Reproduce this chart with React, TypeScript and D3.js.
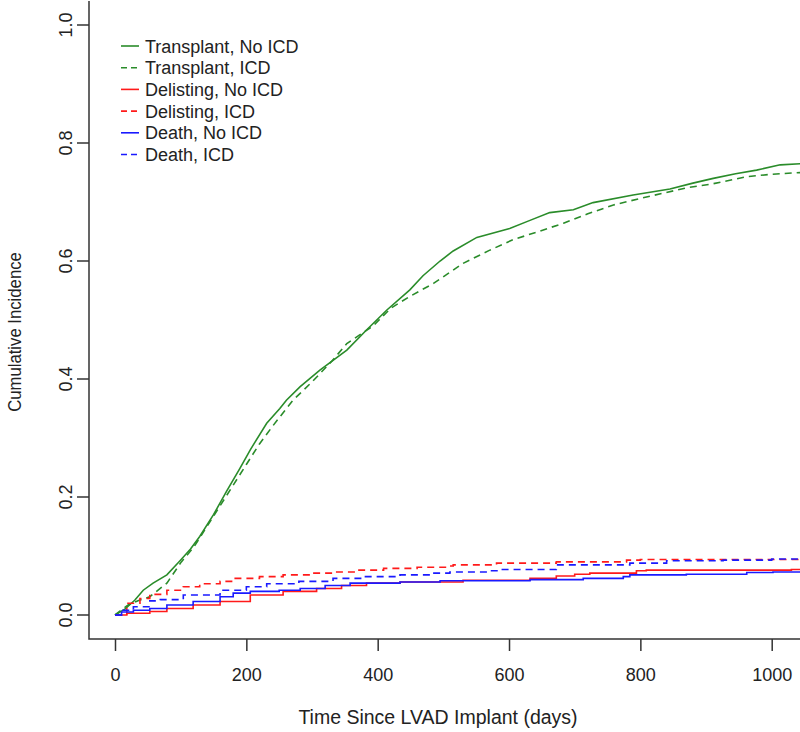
import React, { useEffect, useRef } from 'react';
import * as d3 from 'd3';

// cumulative incidence: [days, value]
const transplantNoIcd: [number, number][] = [
  [0, 0], [15, 0.01], [30, 0.025], [43, 0.042], [58, 0.054], [79, 0.068], [99, 0.092],
  [115, 0.112], [129, 0.133], [150, 0.17], [170, 0.21], [190, 0.248], [206, 0.28],
  [231, 0.325], [251, 0.35], [261, 0.364], [282, 0.387], [312, 0.415], [353, 0.449],
  [383, 0.483], [414, 0.517], [449, 0.551], [469, 0.575], [495, 0.6], [515, 0.617],
  [551, 0.64], [601, 0.655], [630, 0.668], [662, 0.682], [698, 0.687], [728, 0.699],
  [789, 0.712], [845, 0.722], [880, 0.732], [911, 0.74], [945, 0.748], [977, 0.754],
  [1013, 0.763], [1045, 0.765],
];
const transplantIcd: [number, number][] = [
  [0, 0], [20, 0.017], [35, 0.024], [53, 0.031], [79, 0.054], [101, 0.09], [120, 0.115],
  [140, 0.15], [160, 0.185], [180, 0.22], [200, 0.255], [220, 0.29], [240, 0.32],
  [261, 0.35], [271, 0.364], [300, 0.395], [330, 0.43], [353, 0.46], [393, 0.49],
  [420, 0.52], [449, 0.54], [485, 0.562], [530, 0.596], [570, 0.618], [606, 0.636],
  [645, 0.65], [683, 0.664], [720, 0.68], [759, 0.695], [800, 0.706], [835, 0.715],
  [870, 0.724], [911, 0.731], [962, 0.743], [1000, 0.747], [1045, 0.75],
];
const delistingNoIcd: [number, number][] = [
  [0, 0], [18, 0.003], [53, 0.006], [79, 0.011], [119, 0.017], [160, 0.023], [206, 0.034],
  [256, 0.04], [307, 0.045], [345, 0.05], [383, 0.054], [434, 0.056], [530, 0.059],
  [632, 0.062], [672, 0.066], [700, 0.069], [723, 0.071], [794, 0.075], [809, 0.076],
  [1030, 0.077], [1045, 0.077],
];
const delistingIcd: [number, number][] = [
  [0, 0], [18, 0.02], [38, 0.028], [53, 0.035], [79, 0.042], [104, 0.048], [129, 0.053],
  [160, 0.057], [180, 0.062], [220, 0.065], [256, 0.068], [300, 0.071], [332, 0.073],
  [370, 0.076], [409, 0.079], [460, 0.081], [510, 0.083], [515, 0.085], [581, 0.088],
  [672, 0.09], [779, 0.093], [800, 0.094], [1045, 0.096],
];
const deathNoIcd: [number, number][] = [
  [0, 0], [10, 0.005], [28, 0.008], [53, 0.011], [79, 0.017], [119, 0.023], [160, 0.031],
  [180, 0.037], [206, 0.04], [250, 0.042], [282, 0.045], [320, 0.05], [358, 0.054],
  [434, 0.056], [495, 0.058], [632, 0.06], [713, 0.062], [774, 0.065], [784, 0.068],
  [870, 0.069], [962, 0.072], [1002, 0.073], [1045, 0.073],
];
const deathIcd: [number, number][] = [
  [0, 0], [10, 0.008], [28, 0.014], [53, 0.024], [69, 0.026], [104, 0.034], [160, 0.042],
  [200, 0.048], [231, 0.053], [280, 0.057], [332, 0.062], [380, 0.065], [434, 0.068],
  [480, 0.071], [510, 0.073], [571, 0.075], [585, 0.077], [672, 0.085], [784, 0.088],
  [840, 0.092], [926, 0.093], [1000, 0.095], [1045, 0.097],
];

const seriesNames = [
  'Transplant, No ICD', 'Transplant, ICD', 'Delisting, No ICD',
  'Delisting, ICD', 'Death, No ICD', 'Death, ICD',
];
const seriesData = [transplantNoIcd, transplantIcd, delistingNoIcd, delistingIcd, deathNoIcd, deathIcd];
const seriesColors = ['#2a8c2a', '#2a8c2a', '#ff1a1a', '#ff1a1a', '#1a1aff', '#1a1aff'];
const seriesDashed = [false, true, false, true, false, true];

const xTicks = [0, 200, 400, 600, 800, 1000];
const yTicks = [0, 0.2, 0.4, 0.6, 0.8, 1.0];

const App = () => {
  const ref = useRef<SVGSVGElement>(null);

  useEffect(() => {
    document.body.style.margin = '0';
    const svg = d3.select(ref.current);
    svg.selectAll('*').remove();

    const font = '"Liberation Sans", Arial, sans-serif';
    const left = 89, bottom = 639, top = 1, right = 800;

    const x = d3.scaleLinear().domain([0, 1000]).range([115, 771.7]);
    const y = d3.scaleLinear().domain([0, 1]).range([615, 25]);

    svg.append('defs').append('clipPath').attr('id', 'plot-clip')
      .append('rect').attr('x', left).attr('y', top)
      .attr('width', right - left).attr('height', bottom - top);

    // L-shaped frame
    svg.append('path')
      .attr('d', `M${left},${top}V${bottom}H${right}`)
      .attr('fill', 'none').attr('stroke', '#333').attr('stroke-width', 1.5);

    const yAxis = svg.append('g')
      .attr('transform', `translate(${left},0)`)
      .call(d3.axisLeft(y).tickValues(yTicks).tickSize(12).tickFormat(d3.format('.1f')));
    yAxis.select('.domain').remove();
    yAxis.selectAll('line').attr('stroke', '#333').attr('stroke-width', 1.5);
    yAxis.selectAll('text')
      .attr('x', null).attr('dy', null)
      .attr('transform', (d: any) => `translate(-17,${y(d)}) rotate(-90)`)
      .attr('text-anchor', 'middle')
      .attr('fill', '#222').style('font-family', font).style('font-size', '18px');
    yAxis.selectAll('.tick').attr('transform', () => 'translate(0,0)')
      .select('line').attr('y1', (d: any) => y(d)).attr('y2', (d: any) => y(d));

    const xAxis = svg.append('g')
      .attr('transform', `translate(0,${bottom})`)
      .call(d3.axisBottom(x).tickValues(xTicks).tickSize(12).tickFormat(d3.format('d')));
    xAxis.select('.domain').remove();
    xAxis.selectAll('line').attr('stroke', '#333').attr('stroke-width', 1.5);
    xAxis.selectAll('text')
      .attr('y', 42).attr('dy', null)
      .attr('fill', '#222').style('font-family', font).style('font-size', '18px');

    svg.append('text')
      .attr('x', 438).attr('y', 724)
      .attr('text-anchor', 'middle').attr('fill', '#222')
      .style('font-family', font).style('font-size', '19.5px')
      .text('Time Since LVAD Implant (days)');

    // y title is a bit condensed in the original
    svg.append('text')
      .attr('transform', 'translate(21,332) rotate(-90) scale(0.88,1)')
      .attr('text-anchor', 'middle').attr('fill', '#222')
      .style('font-family', font).style('font-size', '19px')
      .text('Cumulative Incidence');

    const plot = svg.append('g').attr('clip-path', 'url(#plot-clip)');
    seriesData.forEach((data, i) => {
      const line = d3.line<[number, number]>()
        .x(d => x(d[0])).y(d => y(d[1]))
        .curve(i < 2 ? d3.curveLinear : d3.curveStepAfter);
      plot.append('path')
        .datum(data)
        .attr('d', line)
        .attr('fill', 'none')
        .attr('stroke', seriesColors[i])
        .attr('stroke-width', 1.6)
        .attr('stroke-dasharray', seriesDashed[i] ? '7,5' : null);
    });

    // legend
    const legend = svg.append('g');
    seriesNames.forEach((name, i) => {
      const cy = 46 + i * 21.7;
      legend.append('line')
        .attr('x1', 121).attr('x2', 139).attr('y1', cy).attr('y2', cy)
        .attr('stroke', seriesColors[i]).attr('stroke-width', 1.6)
        .attr('stroke-dasharray', seriesDashed[i] ? '6,4' : null);
      legend.append('text')
        .attr('x', 145).attr('y', cy + 6.5)
        .attr('fill', '#222').style('font-family', font).style('font-size', '18px')
        .text(name);
    });
  }, []);

  return <svg ref={ref} width={800} height={732} style={{ display: 'block', background: '#fff' }} />;
};

export default App;
